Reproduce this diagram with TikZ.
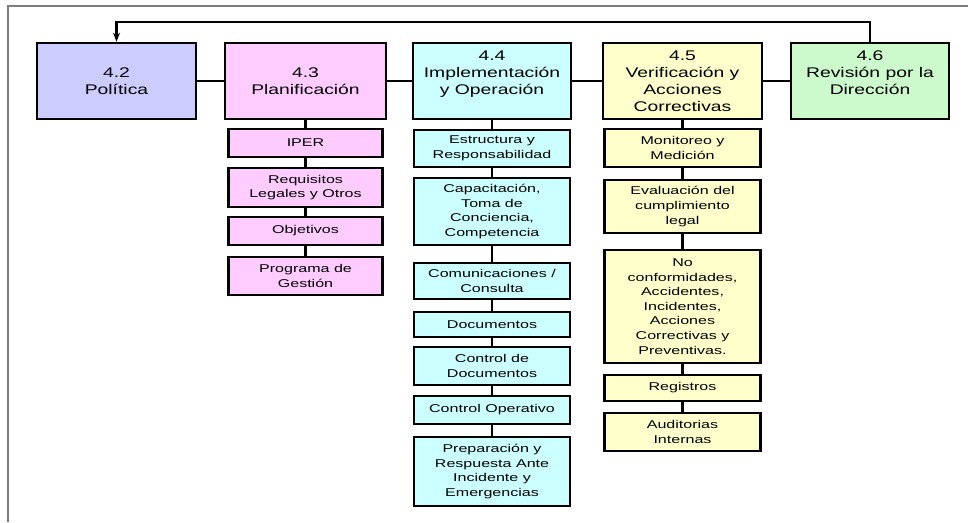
\documentclass[tikz,border=0pt]{standalone}
\usepackage{fontspec}
\setmainfont{Liberation Sans}
\newfontfamily\headfont[FakeStretch=1.38]{Liberation Sans}
\newfontfamily\boxfont[FakeStretch=1.42]{Liberation Sans}
\usetikzlibrary{arrows.meta}
\definecolor{polcol}{RGB}{204,204,255}
\definecolor{plancol}{RGB}{255,204,255}
\definecolor{impcol}{RGB}{204,255,255}
\definecolor{vercol}{RGB}{255,255,204}
\definecolor{revcol}{RGB}{204,250,204}
\definecolor{framecol}{RGB}{125,125,125}
\begin{document}
\begin{tikzpicture}[x=1pt,y=1pt,yscale=-1,
  headbox/.style={draw=black,line width=2.6pt,align=center,inner sep=1pt,
    minimum height=76pt,font=\headfont\fontsize{14}{17}\selectfont},
  subbox/.style={draw=black,line width=2.6pt,align=center,inner sep=1pt,
    font=\boxfont\fontsize{11.3}{14.6}\selectfont},
  link/.style={line width=2.4pt}]
\useasboundingbox (0,0) rectangle (968,522);
% frame
\draw[framecol,line width=2pt] (8,522) -- (8,6) -- (968,6);

% Head boxes
\node[headbox,fill=polcol,minimum width=159pt] (pol) at (116.5,81) {4.2\\Política};
\node[headbox,fill=plancol,minimum width=161pt] (plan) at (305.5,81) {4.3\\Planificación};
\node[headbox,fill=impcol,minimum width=158pt] (imp) at (492,81) {4.4\\Implementación\\y Operación\\ \mbox{}};
\node[headbox,fill=vercol,minimum width=159pt] (ver) at (682.5,81) {4.5\\Verificación y\\Acciones\\Correctivas};
\node[headbox,fill=revcol,minimum width=158pt] (rev) at (870,81) {4.6\\Revisión por la\\Dirección\\ \mbox{}};

% Planificacion
\node[subbox,fill=plancol,minimum width=154pt,minimum height=28pt] (iper) at (305.5,143) {IPER};
\node[subbox,fill=plancol,minimum width=154pt,minimum height=39pt] (req) at (305.5,187.5) {Requisitos\\Legales y Otros};
\node[subbox,fill=plancol,minimum width=154pt,minimum height=28pt] (obj) at (305.5,231) {Objetivos};
\node[subbox,fill=plancol,minimum width=154pt,minimum height=38pt] (prog) at (305.5,276) {Programa de\\Gestión};

% Implementacion
\node[subbox,fill=impcol,minimum width=156pt,minimum height=37pt] (estr) at (492,148.5) {Estructura y\\Responsabilidad};
\node[subbox,fill=impcol,minimum width=156pt,minimum height=67pt] (cap) at (492,211.5) {Capacitación,\\Toma de\\Conciencia,\\Competencia};
\node[subbox,fill=impcol,minimum width=156pt,minimum height=36pt] (com) at (492,281) {Comunicaciones /\\Consulta};
\node[subbox,fill=impcol,minimum width=156pt,minimum height=25pt] (doc) at (492,324.5) {Documentos};
\node[subbox,fill=impcol,minimum width=156pt,minimum height=38pt] (cdoc) at (492,366) {Control de\\Documentos};
\node[subbox,fill=impcol,minimum width=156pt,minimum height=28pt] (cop) at (492,410) {Control Operativo};
\node[subbox,fill=impcol,minimum width=156pt,minimum height=69pt] (prep) at (492,471.5) {Preparación y\\Respuesta Ante\\Incidente y\\Emergencias};

% Verificacion
\node[subbox,fill=vercol,minimum width=156pt,minimum height=38pt] (mon) at (682.5,148) {Monitoreo y\\Medición};
\node[subbox,fill=vercol,minimum width=156pt,minimum height=53pt] (eval) at (682.5,206.5) {Evaluación del\\cumplimiento\\legal};
\node[subbox,fill=vercol,minimum width=156pt,minimum height=113pt] (nocf) at (682.5,306.5) {No\\conformidades,\\Accidentes,\\Incidentes,\\Acciones\\Correctivas y\\Preventivas.};
\node[subbox,fill=vercol,minimum width=156pt,minimum height=26pt] (reg) at (682.5,388) {Registros};
\node[subbox,fill=vercol,minimum width=156pt,minimum height=38pt] (aud) at (682.5,432) {Auditorias\\Internas};

% links between head boxes
\draw[link] (pol.east) -- (plan.west);
\draw[link] (plan.east) -- (imp.west);
\draw[link] (imp.east) -- (ver.west);
\draw[link] (ver.east) -- (rev.west);
% feedback
\draw[link,-{Stealth[length=9pt,width=7pt]}] (rev.north) -- ++(0,-20) -| (pol.north);

% columns
\draw[link] (plan.south) -- (iper.north) (iper.south) -- (req.north) (req.south) -- (obj.north) (obj.south) -- (prog.north);
\draw[link] (imp.south) -- (estr.north) (estr.south) -- (cap.north) (cap.south) -- (com.north) (com.south) -- (doc.north)
  (doc.south) -- (cdoc.north) (cdoc.south) -- (cop.north) (cop.south) -- (prep.north);
\draw[link] (ver.south) -- (mon.north) (mon.south) -- (eval.north) (eval.south) -- (nocf.north) (nocf.south) -- (reg.north) (reg.south) -- (aud.north);

\end{tikzpicture}
\end{document}
